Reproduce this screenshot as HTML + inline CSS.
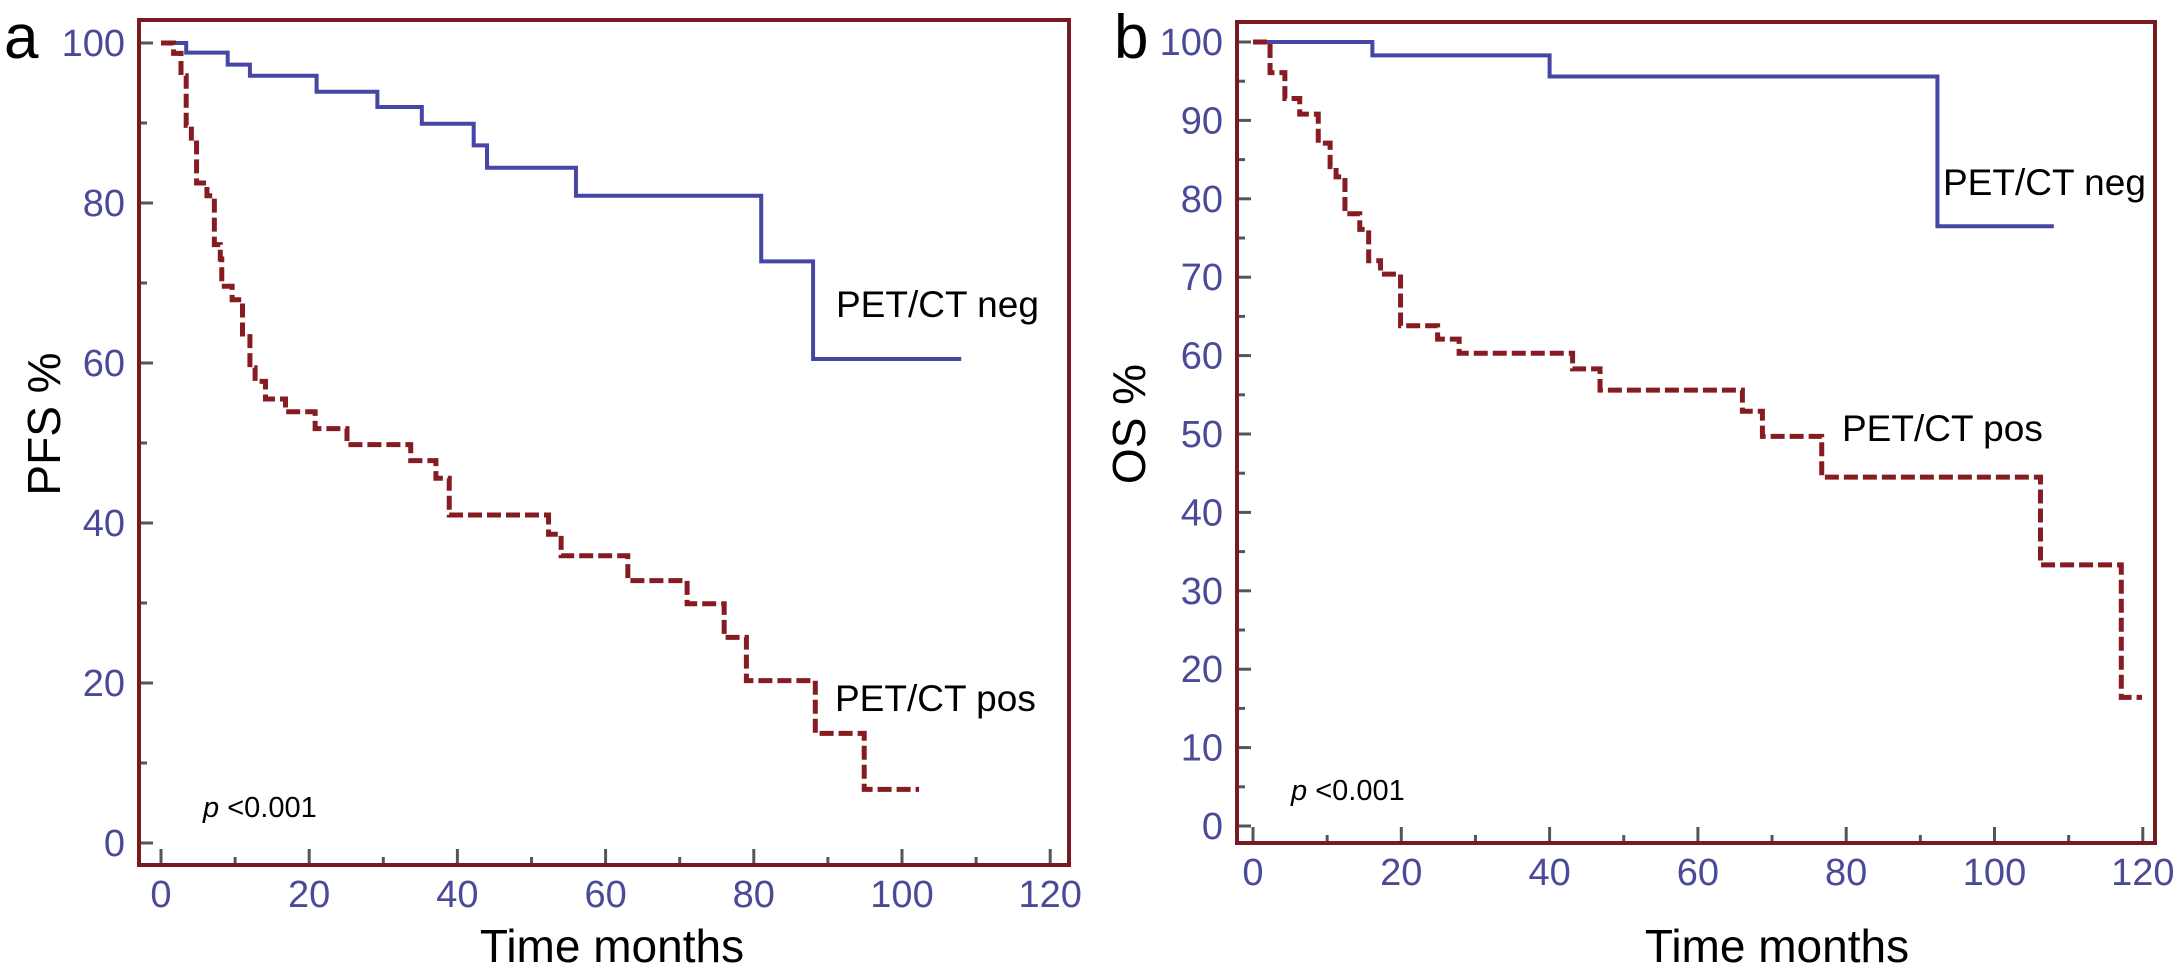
<!DOCTYPE html>
<html><head><meta charset="utf-8">
<style>
html,body{margin:0;padding:0;background:#fff;}
svg{display:block;}
text{font-family:"Liberation Sans",sans-serif;}
</style></head>
<body>
<svg id="fig" width="2178" height="975" viewBox="0 0 2178 975" xmlns="http://www.w3.org/2000/svg"></svg>
<script>
// Panel a: PFS
const aNegTimes = [0, 3.4, 9.0, 12.0, 21.0, 29.2, 35.2, 42.2, 44.0, 56.0, 81.0, 88.0];
const aNegValues = [100, 98.8, 97.3, 95.9, 93.9, 92.0, 89.9, 87.2, 84.4, 80.9, 72.7, 60.5];
const aNegEnd = 108;
const aPosTimes = [0, 1.7, 2.7, 3.4, 4.1, 4.8, 6.2, 7.2, 8.0, 8.2, 9.6, 11.0, 12.0, 12.7, 14.1, 16.8, 20.8, 25.1, 33.7, 37.1, 38.9, 52.3, 54.0, 63.0, 71.0, 76.0, 79.0, 88.3, 94.9];
const aPosValues = [100, 98.7, 95.9, 89.7, 87.5, 82.5, 80.9, 74.8, 73.0, 69.6, 67.9, 63.3, 59.4, 57.7, 55.5, 53.9, 51.8, 49.8, 47.8, 45.6, 41.0, 38.6, 35.9, 32.8, 29.9, 25.7, 20.3, 13.7, 6.7];
const aPosEnd = 102.3;
const aYTicks = [0, 20, 40, 60, 80, 100];
// Panel b: OS
const bNegTimes = [0, 16.1, 40.0, 92.3];
const bNegValues = [100, 98.3, 95.6, 76.5];
const bNegEnd = 108;
const bPosTimes = [0, 2.3, 4.3, 6.3, 8.8, 10.4, 11.2, 12.4, 14.4, 15.6, 17.2, 19.9, 24.9, 27.8, 43.1, 46.8, 66.0, 68.7, 76.7, 106.2, 117.1];
const bPosValues = [100, 96.1, 92.8, 90.8, 87.1, 84.1, 82.8, 78.1, 76.1, 72.1, 70.4, 63.8, 62.1, 60.3, 58.3, 55.6, 52.9, 49.7, 44.5, 33.3, 16.4];
const bPosEnd = 119.9;
const bYTicks = [0, 10, 20, 30, 40, 50, 60, 70, 80, 90, 100];
const xTicks = [0, 20, 40, 60, 80, 100, 120];

const NS = "http://www.w3.org/2000/svg";
const svg = document.getElementById('fig');
function el(tag, attrs, parent) {
  const e = document.createElementNS(NS, tag);
  for (const k in attrs) e.setAttribute(k, attrs[k]);
  (parent || svg).appendChild(e);
  return e;
}
const TICKCOL = "#4a4a99", FRAME = "#7a1a20";

function panel(p) {
  const g = el('g', {});
  
  
  const xs = t => p.x0 + p.xk * t;
  const ys = v => p.y0 - p.yk * v;
  for (let v = 0; v <= 100; v += p.minorY) {
    const major = p.yTicks.includes(v);
    const t = el('line', {x1: p.fl, x2: p.fl + (major ? 14 : 8), y1: ys(v), y2: ys(v), stroke: '#555', 'stroke-width': 3}, g);
    
    
  }
  for (let m = 0; m <= 120; m += 10) {
    const major = xTicks.includes(m);
    const t = el('line', {x1: xs(m), x2: xs(m), y1: p.fb, y2: p.fb - (major ? 16 : 8), stroke: '#555', 'stroke-width': 3}, g);
    
    
  }
  p.yTicks.forEach(v => {
    const t = el('text', {x: p.fl - 14, y: ys(v) + 13, 'text-anchor': 'end', 'font-size': 38, fill: TICKCOL}, g);
    t.textContent = v;
    
    
  });
  xTicks.forEach(m => {
    const t = el('text', {x: xs(m), y: p.fb + 42, 'text-anchor': 'middle', 'font-size': 38, fill: TICKCOL}, g);
    t.textContent = m;
    
    
  });
  function stepPath(times, vals, end) {
    let d = 'M' + xs(times[0]) + ' ' + ys(vals[0]);
    for (let i = 1; i < times.length; i++) {
      d += ' H' + xs(times[i]) + ' V' + ys(vals[i]);
    }
    d += ' H' + xs(end);
    return d;
  }
  const neg = el('path', {d: stepPath(p.negT, p.negV, p.negEnd), fill: 'none', stroke: '#4646a6', 'stroke-width': 4}, g);
  
  
  const pos = el('path', {d: stepPath(p.posT, p.posV, p.posEnd), fill: 'none', stroke: '#861b22', 'stroke-width': 5, 'stroke-dasharray': '14 5'}, g);
  
  
  const fr = el('rect', {x: p.fl, y: p.ft, width: p.fr - p.fl, height: p.fb - p.ft, fill: 'none', stroke: FRAME, 'stroke-width': 4}, g);
  
  
  const texts = [
    [p.letter, p.letterX, 58, 62, '#000', 'start', 'panel-letter'],
    ['PET/CT neg', p.negLX, p.negLY, 37, '#000', 'start', 'pet-ct-neg-label'],
    ['PET/CT pos', p.posLX, p.posLY, 37, '#000', 'start', 'pet-ct-pos-label'],
    ['Time months', p.xTitleX, 962, 46, '#000', 'middle', 'x-axis-title']
  ];
  texts.forEach(a => {
    const t = el('text', {x: a[1], y: a[2], 'font-size': a[3], fill: a[4], 'text-anchor': a[5]}, g);
    t.textContent = a[0];
    
    
  });
  const yt = el('text', {x: 0, y: 0, 'font-size': 46, 'text-anchor': 'middle', transform: 'translate(' + p.yTitleX + ',' + 424 + ') rotate(-90)'}, g);
  yt.textContent = p.yTitle;
  
  
  const pv = el('text', {x: p.pX, y: p.pY, 'font-size': 29}, g);
  
  
  const pi = el('tspan', {'font-style': 'italic'}, pv); pi.textContent = 'p';
  const pr = el('tspan', {}, pv); pr.textContent = ' <0.001';
}

panel({name: 'panel-a-pfs', x0: 161, xk: 7.41, y0: 843, yk: 8, fl: 139, fr: 1069, ft: 20, fb: 865,
  minorY: 10, yTicks: aYTicks, negT: aNegTimes, negV: aNegValues, negEnd: aNegEnd,
  posT: aPosTimes, posV: aPosValues, posEnd: aPosEnd, letter: 'a', letterX: 4,
  negLX: 836, negLY: 317, posLX: 835, posLY: 711, xTitleX: 612, yTitleX: 60, yTitle: 'PFS %',
  pX: 203, pY: 817});
panel({name: 'panel-b-os', x0: 1253, xk: 7.415, y0: 826, yk: 7.84, fl: 1237, fr: 2155, ft: 22, fb: 843,
  minorY: 5, yTicks: bYTicks, negT: bNegTimes, negV: bNegValues, negEnd: bNegEnd,
  posT: bPosTimes, posV: bPosValues, posEnd: bPosEnd, letter: 'b', letterX: 1114,
  negLX: 1943, negLY: 195, posLX: 1842, posLY: 441, xTitleX: 1777, yTitleX: 1145, yTitle: 'OS %',
  pX: 1291, pY: 800});
</script>
</body></html>
